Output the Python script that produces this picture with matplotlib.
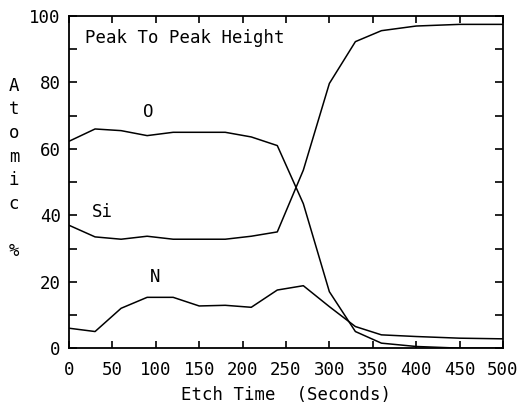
import matplotlib
matplotlib.use("Agg")
import matplotlib.pyplot as plt
from matplotlib.ticker import MultipleLocator

plt.rcParams['font.family'] = ['DejaVu Sans Mono']

time = [0, 30, 60, 90, 120, 150, 180, 210, 240, 270, 300, 330, 360, 400, 450, 500]
oxygen = [62.3, 66, 65.5, 64, 65, 65, 65, 63.6, 61, 43.5, 17, 5, 1.5, 0.5, 0, 0]
silicon = [37, 33.5, 32.8, 33.7, 32.8, 32.8, 32.8, 33.7, 35, 53.6, 79.7, 92.3, 95.6, 97, 97.5, 97.5]
nitrogen = [6, 5, 12, 15.3, 15.3, 12.7, 12.9, 12.3, 17.5, 18.8, 12.5, 6.5, 4, 3.5, 3, 2.8]

xticks = [0, 50, 100, 150, 200, 250, 300, 350, 400, 450, 500]
yticks = [0, 20, 40, 60, 80, 100]

fig = plt.figure(figsize=(5.19, 4.12), dpi=100)
ax = fig.add_axes([0.133, 0.155, 0.836, 0.806])

for ser in (oxygen, silicon, nitrogen):
    ax.plot(time, ser, color='black', lw=1.1)

ax.set_xlim(0, 500)
ax.set_ylim(0, 100)
ax.set_xticks(xticks)
ax.set_xticklabels([str(t) for t in xticks])
ax.set_yticks(yticks)
ax.set_yticklabels([str(t) for t in yticks])
ax.yaxis.set_minor_locator(MultipleLocator(10))
ax.tick_params(axis='both', which='both', direction='in', top=True, right=True,
               labelsize=12.5, width=1.2, colors='black')
ax.tick_params(axis='x', which='major', length=5, pad=9)
ax.tick_params(axis='y', which='both', length=6, pad=6)
for s in ax.spines.values():
    s.set_linewidth(1.3)

ax.text(18, 92, 'Peak To Peak Height', fontsize=12.5)
ax.text(91, 69.5, 'O', fontsize=12.5, ha='center')
ax.text(39, 39.5, 'Si', fontsize=12.5, ha='center')
ax.text(99, 20, 'N', fontsize=12.5, ha='center')

ax.set_xlabel('Etch Time  (Seconds)', fontsize=12.5, labelpad=5)

letters = ['A', 't', 'o', 'm', 'i', 'c', '', '%']
for i, ch in enumerate(letters):
    if ch:
        fig.text(14 / 519, 1 - (86 + i * 23.5) / 412, ch, fontsize=12.5,
                 ha='center', va='center')

fig.savefig('out.png', dpi=100)
